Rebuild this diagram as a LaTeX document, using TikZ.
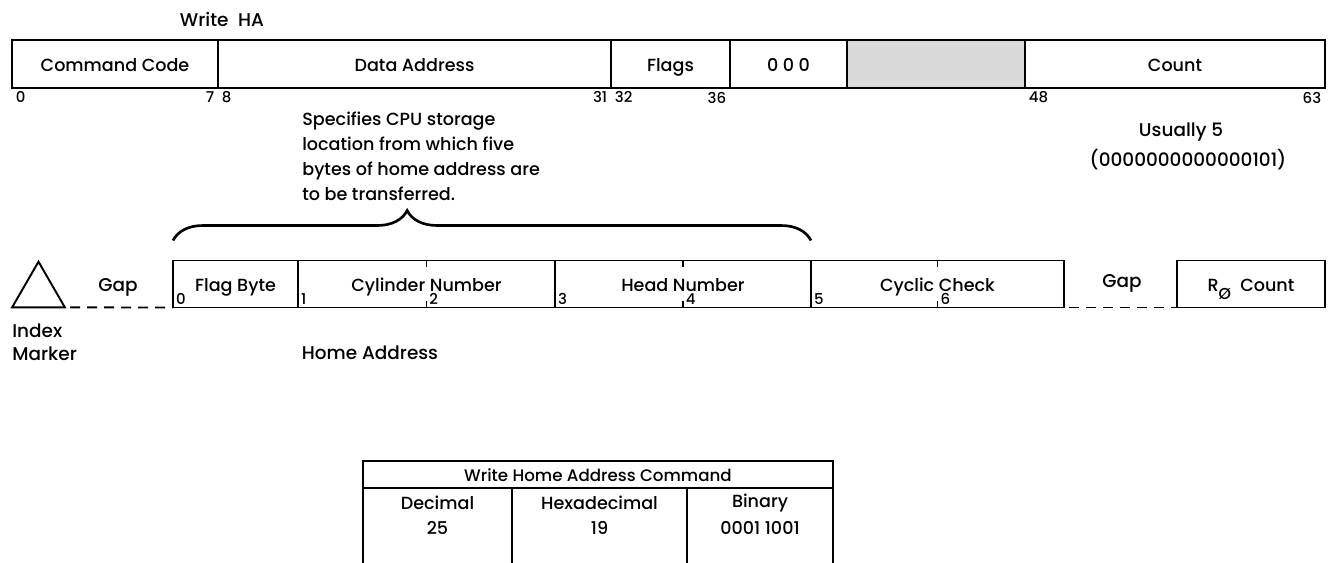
\documentclass[tikz,border=0pt]{standalone}
\usepackage{fontspec}
\setmainfont{Poppins}[UprightFont=* Medium]
\usetikzlibrary{positioning, shapes.geometric, decorations.pathreplacing}

\begin{document}
\begin{tikzpicture}[x=0.02cm, y=-0.02cm,
  field/.style={draw, line width=1.1pt, inner sep=0pt, outer sep=0pt, text height=1.45ex, text depth=0pt, font=\fontsize{10}{12}\selectfont},
  rowa/.style={field, minimum height=0.96cm},
  rowb/.style={field, minimum height=0.94cm},
  bitno/.style={font=\fontsize{8.5}{10}\selectfont, inner sep=2pt},
  txt/.style={font=\fontsize{10.5}{13}\selectfont, inner sep=0pt},
  cell/.style={font=\fontsize{10}{12}\selectfont, inner sep=0pt},
  gapline/.style={line width=1.1pt, dash pattern=on 0.2cm off 0.14cm},
]
\useasboundingbox (0,0) rectangle (1328,563);

% command word
\node[txt] (title) at (222,19) {Write\ \ HA};
\node[rowa, minimum width=4.12cm] (cmd)   at (115,64)   {Command Code};
\node[rowa, minimum width=7.86cm] (addr)  at (414.5,64) {Data Address};
\node[rowa, minimum width=2.38cm] (flags) at (670.5,64) {Flags};
\node[rowa, minimum width=2.34cm] (zeros) at (788.5,64) {0\ 0\ 0};
\node[rowa, minimum width=3.56cm, fill=black!15] (pad) at (936,64) {};
\node[rowa, minimum width=6cm]    (count) at (1175,64)  {Count};

\node[bitno, anchor=north west] at (cmd.south west)   {0};
\node[bitno, anchor=north east] at (cmd.south east)   {7};
\node[bitno, anchor=north west] at (addr.south west)  {8};
\node[bitno, anchor=north east] at (addr.south east)  {31};
\node[bitno, anchor=north west] at (flags.south west) {32};
\node[bitno, anchor=north east] at (flags.south east) {36};
\node[bitno, anchor=north west] at (count.south west) {48};
\node[bitno, anchor=north east] at (count.south east) {63};

\node[txt, anchor=north west, align=left, font=\fontsize{10}{14.2}\selectfont] (note) at (302,112)
  {Specifies CPU storage\\location from which five\\bytes of home address are\\to be transferred.};
\node[txt] (usual)    at (1181,132) {Usually 5};
\node[txt] (usualbin) at (1188,160) {(0000000000000101)};

% home address track
\node[rowb, minimum width=2.5cm]  (fbyte) at (235.5,284) {Flag Byte};
\node[rowb, minimum width=5.14cm] (cyl)   at (426.5,284) {Cylinder Number};
\node[rowb, minimum width=5.12cm] (head)  at (683,284)   {Head Number};
\node[rowb, minimum width=5.06cm] (crc)   at (937.5,284) {Cyclic Check};
\node[rowb, minimum width=2.96cm] (rzero) at (1251,284)  {R\raisebox{-0.9ex}{\small Ø}\ \ Count};

\node[bitno, anchor=south west, inner sep=1.5pt] at (fbyte.south west) {0};
\node[bitno, anchor=south west, inner sep=1.5pt] at (cyl.south west)   {1};
\node[bitno, anchor=south west, inner sep=1.5pt] at (head.south west)  {3};
\node[bitno, anchor=south west, inner sep=1.5pt] at (crc.south west)   {5};
\foreach \f/\n in {cyl/2, head/4, crc/6}{
  \draw[line width=1.1pt] (\f.north) -- ++(0,6);
  \draw[line width=1.1pt] (\f.south) -- ++(0,-6);
  \node[bitno, anchor=south west, inner sep=1.5pt] at (\f.south) {\n};
}

\node[draw, line width=1.1pt, regular polygon, regular polygon sides=3,
  minimum size=1.22cm, inner sep=0pt, outer sep=0pt] (idx) at (38.5,292.2) {};
\draw[gapline, shorten <=3pt] (idx.corner 3) -- (fbyte.south west);
\draw[gapline, shorten <=3pt] (crc.south east) -- (rzero.south west);

\node[txt] (gapl) at (118,287) {Gap};
\node[txt] (gapr) at (1122,283) {Gap};
\node[txt, anchor=west, align=left] (idxlbl) at (12,342) {Index\\Marker};
\node[txt] (halbl) at (370,353) {Home Address};

\draw[decorate, decoration={brace, amplitude=0.6cm, aspect=0.367}, line width=1.5pt]
  ([yshift=0.4cm]fbyte.north west) -- ([yshift=0.4cm]head.north east);

% command table
\node[field, minimum width=9.4cm, minimum height=0.54cm, font=\fontsize{9.5}{11}\selectfont] (hdr) at (598,474.5) {Write Home Address Command};
\foreach \c/\x/\w/\h/\v in {dec/437.5/2.98/Decimal/25, hex/599.5/3.5/Hexadecimal/19, bin/760/2.92/Binary/0001 1001}{
  \node[field, minimum width=\w cm, minimum height=1.8cm] (\c) at (\x,533) {};
  \node[cell] at ([yshift=-0.3cm]\c.north) {\h};
  \node[cell] at ([yshift=-0.8cm]\c.north) {\v};
}
\end{tikzpicture}
\end{document}
